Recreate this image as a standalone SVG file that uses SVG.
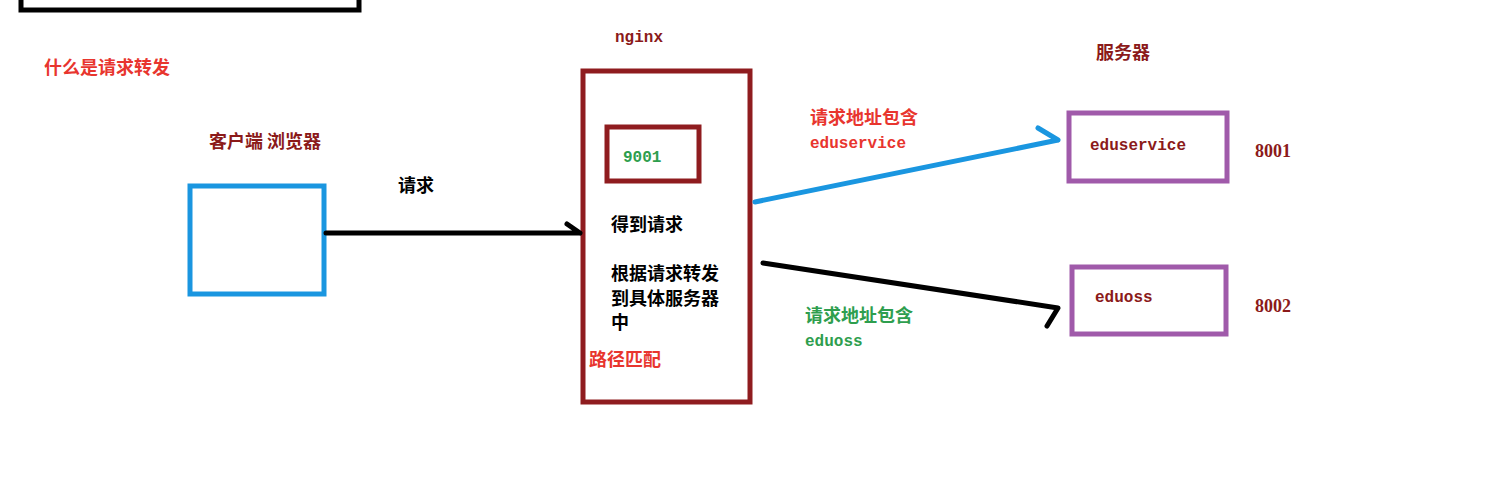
<svg xmlns="http://www.w3.org/2000/svg" width="1488" height="485" viewBox="0 0 1488 485">
<style>
.cn{font-family:"Noto Sans CJK SC","Liberation Sans",sans-serif;font-weight:bold;font-size:18px}
.mono{font-family:"Liberation Mono",monospace;font-weight:bold;font-size:16px}
.serif{font-family:"Liberation Serif",serif;font-weight:bold;font-size:18px}
.dr{fill:#8b1a1a}.rd{fill:#e8352e}.gr{fill:#2e9e4e}.bk{fill:#000}
</style>
<rect width="1488" height="485" fill="#fff"/>
<rect x="21" y="-20" width="338" height="30" fill="none" stroke="#000" stroke-width="5"/>
<text class="cn rd" x="44" y="74">什么是请求转发</text>
<g id="client">
<text class="cn dr" x="209" y="148">客户端 浏览器</text>
<rect x="190" y="186" width="134" height="108" fill="none" stroke="#1a96e0" stroke-width="5"/>
</g>
<g id="nginx">
<text class="mono dr" x="615" y="42">nginx</text>
<rect x="583" y="71" width="167" height="331" fill="none" stroke="#8f1c1f" stroke-width="5"/>
<rect x="607" y="127" width="92" height="54" fill="none" stroke="#8f1c1f" stroke-width="5"/>
<text class="mono gr" x="623" y="162">9001</text>
<text class="cn bk" x="611" y="231">得到请求</text>
<text class="cn bk" x="611" y="280">根据请求转发</text>
<text class="cn bk" x="611" y="305">到具体服务器</text>
<text class="cn bk" x="611" y="329">中</text>
<text class="cn rd" x="589" y="366">路径匹配</text>
</g>
<g id="servers">
<text class="cn dr" x="1096" y="59">服务器</text>
</g>
<g id="eduservice">
<rect x="1069" y="113" width="158" height="68" fill="none" stroke="#a05aaa" stroke-width="5"/>
<text class="mono dr" x="1090" y="150">eduservice</text>
<text class="serif dr" x="1255" y="157">8001</text>
</g>
<g id="eduoss">
<rect x="1072" y="267" width="154" height="67" fill="none" stroke="#a05aaa" stroke-width="5"/>
<text class="mono dr" x="1095" y="302">eduoss</text>
<text class="serif dr" x="1255" y="312">8002</text>
</g>
<g id="connectors" fill="none" stroke-linecap="round" stroke-linejoin="round">
<path d="M326 233 H580 M567 224 L580 233" stroke="#000" stroke-width="5"/>
<path d="M755 202 L1058 140 M1038 128 L1058 140" stroke="#1a96e0" stroke-width="5"/>
<path d="M763 263 L1058 308 L1047 326" stroke="#000" stroke-width="5"/>
<text class="cn bk" x="398" y="192" stroke="none" fill="#000">请求</text>
<text class="cn rd" x="810" y="124" stroke="none">请求地址包含</text>
<text class="mono rd" x="810" y="148" stroke="none">eduservice</text>
<text class="cn gr" x="805" y="322" stroke="none">请求地址包含</text>
<text class="mono gr" x="805" y="346" stroke="none">eduoss</text>
</g>
</svg>
